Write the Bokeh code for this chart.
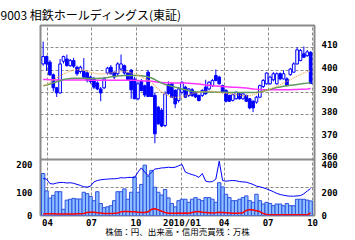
import pandas as pd
from bokeh.plotting import figure
from bokeh.models import (ColumnDataSource, FixedTicker, Range1d, LinearAxis,
                          Span, Grid)
from bokeh.embed import file_html
from bokeh.resources import INLINE

# ---------------- data ----------------
start_date = "2009-03-23"
opens = [402.8, 406.1, 403.6, 397.9, 392.1, 389.8, 404.0, 405.0, 402.0, 404.3,
         401.3, 399.4, 399.4, 398.8, 396.9, 396.1, 394.3, 391.6, 392.1, 398.7,
         401.3, 399.0, 398.4, 400.5, 402.0, 398.7, 400.0, 396.0, 387.2, 395.0,
         393.0, 399.1, 392.5, 388.7, 383.4, 382.0, 375.2, 393.5, 393.9, 390.9,
         386.4, 390.1, 392.4, 388.7, 391.2, 390.0, 388.7, 388.7, 392.4, 391.6,
         393.1, 397.6, 396.9, 393.1, 390.9, 388.7, 386.5, 387.2, 389.4, 387.2,
         388.7, 387.2, 386.1, 385.7, 387.9, 392.7, 393.9, 393.9, 395.7, 393.9,
         398.4, 396.1, 396.1, 398.0, 399.1, 402.8, 404.3, 407.3, 406.5, 408.0]
highs = [412.8, 406.5, 404.5, 398.5, 392.5, 405.0, 406.5, 407.0, 405.0, 405.5,
         402.0, 402.0, 405.4, 399.5, 397.5, 397.0, 395.0, 392.5, 397.0, 401.5,
         402.3, 399.5, 403.5, 407.0, 402.5, 399.0, 400.5, 397.0, 395.0, 396.0,
         393.5, 400.0, 393.0, 390.0, 384.0, 383.0, 390.5, 395.0, 394.5, 391.5,
         392.5, 395.0, 393.0, 392.0, 392.0, 390.5, 389.0, 391.5, 395.7, 395.0,
         396.0, 400.3, 397.5, 393.5, 391.5, 389.0, 389.5, 390.5, 390.0, 390.0,
         389.0, 387.5, 386.5, 388.5, 393.5, 396.0, 399.0, 397.5, 399.1, 399.0,
         399.0, 399.9, 396.8, 401.0, 403.5, 410.3, 409.5, 410.6, 409.0, 408.5]
lows = [402.0, 399.8, 397.5, 390.5, 388.0, 389.5, 403.0, 401.5, 401.5, 401.0,
        397.5, 398.5, 396.5, 394.5, 394.0, 391.5, 391.0, 386.1, 391.5, 398.0,
        398.0, 396.0, 397.5, 400.0, 398.0, 395.5, 387.2, 387.0, 386.5, 390.5,
        388.0, 388.0, 388.0, 367.3, 375.5, 374.5, 374.5, 389.0, 387.5, 383.0,
        385.5, 389.5, 387.5, 388.0, 388.0, 387.5, 386.0, 388.0, 389.0, 391.0,
        392.5, 395.0, 393.5, 389.5, 385.5, 385.8, 386.0, 386.8, 386.8, 386.8,
        385.8, 382.5, 381.2, 385.0, 387.5, 392.0, 393.5, 393.5, 395.0, 393.5,
        395.5, 395.8, 392.8, 397.5, 398.8, 402.5, 404.0, 405.5, 406.0, 394.0]
closes = [406.1, 402.8, 397.9, 392.1, 389.8, 402.8, 406.1, 402.1, 404.3, 401.8,
          398.4, 401.3, 396.9, 395.4, 394.9, 392.4, 391.6, 389.8, 396.1, 400.9,
          398.4, 396.9, 402.8, 402.8, 398.7, 395.8, 391.2, 387.2, 393.9, 390.9,
          388.9, 388.2, 388.2, 371.5, 376.0, 375.0, 389.4, 389.6, 387.9, 384.9,
          391.6, 394.6, 387.9, 391.6, 388.7, 388.0, 386.4, 390.9, 389.4, 394.6,
          395.4, 395.4, 393.9, 390.1, 386.1, 386.1, 389.0, 390.1, 387.2, 389.4,
          386.1, 383.1, 383.1, 387.9, 393.1, 395.4, 398.7, 396.9, 398.4, 398.4,
          396.1, 398.4, 393.1, 400.5, 402.8, 409.1, 408.8, 405.8, 408.2, 394.0]
ma_short = [393.0, 393.5, 394.5, 395.5, 396.5, 397.5, 398.3, 399.0, 399.6, 400.0,
            400.2, 400.2, 400.0, 399.6, 399.0, 398.6, 398.4, 398.3, 398.3, 398.5,
            398.8, 399.0, 399.2, 399.3, 399.3, 399.1, 398.8, 398.3, 397.7, 397.0,
            396.3, 395.5, 394.5, 393.0, 391.5, 390.3, 389.3, 388.5, 388.0, 387.8,
            387.8, 388.0, 388.5, 389.0, 389.5, 389.8, 390.0, 390.3, 390.5, 390.6,
            390.5, 390.3, 390.0, 389.8, 389.6, 389.5, 389.3, 389.0, 388.8, 388.6,
            388.5, 388.6, 389.0, 389.5, 390.0, 390.5, 391.0, 391.6, 392.2, 392.8,
            393.5, 394.3, 395.0, 395.8, 396.5, 397.3, 398.0, 398.7, 399.3, 399.8]
ma_mid = [393.0, 393.3, 393.8, 394.3, 394.8, 395.3, 395.8, 396.1, 396.3, 396.4,
          396.4, 396.4, 396.4, 396.3, 396.3, 396.3, 396.3, 396.4, 396.5, 396.7,
          397.0, 397.2, 397.4, 397.5, 397.6, 397.6, 397.6, 397.6, 397.6, 397.5,
          397.3, 397.0, 396.5, 395.8, 395.0, 394.2, 393.6, 393.2, 392.8, 392.4,
          392.0, 391.6, 391.2, 390.8, 390.5, 390.3, 390.2, 390.2, 390.2, 390.2,
          390.2, 390.2, 390.1, 390.1, 390.1, 390.0, 390.0, 390.0, 390.0, 390.0,
          390.0, 390.0, 390.0, 390.1, 390.3, 390.6, 391.0, 391.4, 391.8, 392.2,
          392.5, 392.8, 393.0, 393.2, 393.4, 393.6, 393.8, 394.0, 394.2, 394.4]
ma_long = [395.8, 395.8, 395.7, 395.7, 395.6, 395.6, 395.6, 395.6, 395.6, 395.6,
           395.6, 395.6, 395.6, 395.6, 395.5, 395.5, 395.5, 395.5, 395.5, 395.5,
           395.5, 395.5, 395.5, 395.5, 395.5, 395.5, 395.5, 395.5, 395.4, 395.3,
           395.2, 395.1, 395.0, 394.8, 394.6, 394.5, 394.4, 394.4, 394.3, 394.3,
           394.2, 394.2, 394.2, 394.1, 394.0, 393.9, 393.8, 393.6, 393.4, 393.2,
           393.0, 392.9, 392.8, 392.7, 392.6, 392.5, 392.4, 392.3, 392.2, 392.1,
           392.0, 391.8, 391.6, 391.4, 391.3, 391.2, 391.2, 391.2, 391.2, 391.2,
           391.2, 391.2, 391.2, 391.2, 391.3, 391.3, 391.4, 391.5, 391.6, 391.8]
volume = [150, 88, 62, 72, 85, 85, 22, 55, 58, 61,
          59, 59, 83, 78, 68, 53, 85, 43, 28, 31,
          35, 53, 85, 85, 95, 58, 83, 138, 83, 111,
          180, 140, 161, 101, 83, 73, 93, 63, 43, 31,
          53, 58, 58, 47, 58, 64, 58, 53, 64, 64,
          58, 47, 117, 102, 76, 64, 53, 53, 58, 64,
          70, 53, 47, 76, 53, 41, 47, 43, 35, 41,
          41, 35, 43, 35, 35, 58, 58, 58, 55, 52]
margin_buy = [264, 260, 228, 225, 232, 236, 236, 232, 234, 230,
              222, 215, 205, 203, 210, 240, 250, 255, 258, 260,
              262, 262, 265, 270, 268, 272, 272, 270, 310, 340,
              310, 285, 310, 332, 335, 340, 341, 345, 342, 345,
              355, 365, 310, 300, 292, 285, 272, 300, 245, 240,
              242, 260, 388, 250, 245, 248, 250, 248, 242, 240,
              238, 230, 222, 210, 205, 198, 190, 180, 170, 158,
              150, 145, 140, 138, 138, 140, 142, 155, 175, 192]
margin_sell = [10, 12, 12, 12, 10, 10, 10, 10, 10, 10,
               12, 12, 14, 22, 24, 24, 20, 18, 15, 15,
               15, 16, 18, 26, 28, 28, 26, 26, 24, 22,
               22, 26, 44, 48, 40, 30, 22, 16, 16, 16,
               18, 16, 18, 16, 22, 26, 28, 24, 22, 20,
               18, 20, 24, 22, 20, 18, 16, 16, 18, 20,
               36, 42, 40, 34, 28, 14, 8, 6, 5, 5,
               5, 5, 5, 5, 5, 5, 5, 5, 5, 18]
tick_dates = ["2009-04-01", "2009-07-01", "2009-10-01", "2010-01-04",
              "2010-04-01", "2010-07-01", "2010-10-01"]
tick_labels = ["04", "07", "10", "2010/01", "04", "07", "10"]
price_ticks = [360, 370, 380, 390, 400, 410]
vol_ticks = [0, 100, 200]
margin_ticks = [0, 200, 400]
title_text = "9003 相鉄ホールディングス(東証)"
footer_text = "株価：円、出来高・信用売買残：万株"

# ---------------- layout constants ----------------
FRAME_H, PRICE_H, VOL_H = 190, 134, 56
P_MIN, P_MAX = 360, 420
V_MAX, M_MAX = 200, 400
GRAY = "#8a8a8a"
BLUE = "#0000ff"
NUM_FONT = "DejaVu Sans Mono"
JP_FONT = "Noto Sans CJK JP"
NUM_SIZE = "9px"

t0 = pd.Timestamp(start_date)
n = len(opens)
xs = [i * 7 for i in range(n)]
tick_x = [(pd.Timestamp(d) - t0).days for d in tick_dates]

src = ColumnDataSource(dict(
    x=xs, open=opens, high=highs, low=lows, close=closes,
    top=[max(o, c) for o, c in zip(opens, closes)],
    bottom=[min(o, c) for o, c in zip(opens, closes)],
    fill=["white" if c >= o else BLUE for o, c in zip(opens, closes)],
    ma_s=ma_short, ma_m=ma_mid, ma_l=ma_long,
    vol=volume, mb=margin_buy, ms=margin_sell,
))

p = figure(width=355, height=240, output_backend="svg", toolbar_location=None,
           x_range=Range1d(-5.5, 561),
           y_range=Range1d(P_MAX - (P_MAX - P_MIN) * FRAME_H / PRICE_H, P_MAX),
           x_axis_location="below", y_axis_location=None,
           min_border_left=40, min_border_right=41,
           min_border_top=25, min_border_bottom=25)
p.extra_y_ranges = {
    "vol": Range1d(0, V_MAX * FRAME_H / VOL_H),
    "mgn": Range1d(0, M_MAX * FRAME_H / VOL_H),
    "lab": Range1d(0, FRAME_H),
}
p.background_fill_color = "white"
p.border_fill_color = "white"
p.outline_line_color = GRAY
p.outline_line_width = 2

# title (top-left)
p.title.text = title_text
p.title.align = "left"
p.title.offset = -40
p.title.standoff = 5
p.title.text_font = JP_FONT
p.title.text_font_size = "12px"
p.title.text_font_style = "normal"
p.title.text_color = "black"

# grids
p.xgrid.ticker = FixedTicker(ticks=tick_x)
p.xgrid.grid_line_color = GRAY
p.xgrid.grid_line_dash = "3 2"
p.ygrid.ticker = FixedTicker(ticks=price_ticks[1:])
p.ygrid.grid_line_color = GRAY
p.ygrid.grid_line_dash = "3 2"
p.add_layout(Grid(dimension=1, y_range_name="vol",
                  ticker=FixedTicker(ticks=[100]),
                  grid_line_color=GRAY, grid_line_dash="3 2"))
p.add_layout(Span(location=P_MIN, dimension="width",
                  line_color=GRAY, line_width=2))

# x axis with footer note as its label
ax = p.below[0]
ax.ticker = FixedTicker(ticks=tick_x)
ax.major_label_overrides = dict(zip(tick_x, tick_labels))
ax.axis_line_color = None
ax.major_tick_out = 0
ax.major_tick_in = 0
ax.minor_tick_line_color = None
ax.major_label_standoff = 2
ax.major_label_text_font = NUM_FONT
ax.major_label_text_font_size = NUM_SIZE
ax.major_label_text_font_style = "bold"
ax.major_label_text_color = "black"
ax.axis_label = footer_text
ax.axis_label_standoff = -6
ax.axis_label_text_font = JP_FONT
ax.axis_label_text_font_size = "8.5px"
ax.axis_label_text_font_style = "normal"
ax.axis_label_text_color = "black"

# label positions (pixels from frame bottom)
def price_pos(v):
    return round(VOL_H + (v - P_MIN) * PRICE_H / (P_MAX - P_MIN) + 3)

def vol_pos(v):
    return max(0, round(v * VOL_H / V_MAX - 5))

def mgn_pos(v):
    return max(0, round(v * VOL_H / M_MAX - 5))

left_pos = [vol_pos(v) for v in vol_ticks]
right_pos = [price_pos(v) for v in price_ticks] + [mgn_pos(v) for v in margin_ticks]
left_lab = dict(zip(left_pos, [str(v) for v in vol_ticks]))
right_lab = dict(zip(right_pos, [str(v) for v in price_ticks] + [str(v) for v in margin_ticks]))

for side, pos, labs, standoff in (("left", left_pos, left_lab, 8),
                                  ("right", right_pos, right_lab, 7)):
    a = LinearAxis(y_range_name="lab", ticker=FixedTicker(ticks=pos),
                   major_label_overrides=labs)
    a.axis_line_color = None
    a.major_tick_out = 0
    a.major_tick_in = 0
    a.minor_tick_line_color = None
    a.major_label_standoff = standoff
    a.major_label_text_font = NUM_FONT
    a.major_label_text_font_size = NUM_SIZE
    a.major_label_text_font_style = "bold"
    a.major_label_text_color = "black"
    p.add_layout(a, side)

# volume panel
p.vbar(x="x", width=7, top="vol", bottom=0, y_range_name="vol", source=src,
       fill_color="#8cbfff", line_color="#2f52e0", line_width=1)
p.line("x", "mb", y_range_name="mgn", source=src, line_color=BLUE, line_width=1)
p.line("x", "ms", y_range_name="mgn", source=src, line_color="#ff0000", line_width=1.5)

# candles
p.segment(x0="x", y0="low", x1="x", y1="high", source=src,
          line_color=BLUE, line_width=1)
p.vbar(x="x", width=5.5, top="top", bottom="bottom", source=src,
       fill_color="fill", line_color=BLUE, line_width=1)

# moving averages
p.line("x", "ma_l", source=src, line_color="#ff33ff", line_width=1.5)
p.line("x", "ma_m", source=src, line_color="#5f9a5f", line_width=1.5)
p.line("x", "ma_s", source=src, line_color="#f0aa50", line_width=1.2,
       line_dash="1 1")

open("out.html", "w").write(file_html(p, INLINE))
